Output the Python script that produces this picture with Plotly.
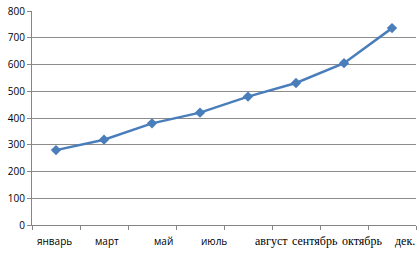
import plotly.graph_objects as go

months = ["январь", "март", "май", "июль", "август", "сентябрь", "октябрь", "дек."]
values = [280, 319, 380, 420, 480, 531, 605, 736]
label_fonts = ["Open Sans", "Open Sans", "Open Sans", "Open Sans",
               "Liberation Serif", "Liberation Serif", "Liberation Serif", "Liberation Serif"]
label_shift = [-2, 3, 11, 14, 23, 19, 18, 13]
y_ticks = [0, 100, 200, 300, 400, 500, 600, 700, 800]

fig = go.Figure()
fig.add_trace(go.Scatter(
    x=months, y=values, mode="lines+markers",
    line=dict(color="#4A7EBB", width=2.5),
    marker=dict(symbol="diamond", size=8, color="#4A7EBB"),
    showlegend=False,
))

for m, f, s in zip(months, label_fonts, label_shift):
    fig.add_annotation(
        x=m, y=0, xref="x", yref="paper", yanchor="top", xanchor="center",
        text=m, showarrow=False, xshift=s, yshift=-7,
        font=dict(family=f, size=12 if "Serif" in f else 10, color="#000000"),
    )

fig.update_layout(
    width=419, height=257,
    margin=dict(l=32, r=3, t=8, b=32),
    paper_bgcolor="white", plot_bgcolor="white",
    xaxis=dict(
        type="category", categoryorder="array", categoryarray=months,
        range=[-0.5, 7.5], tickson="boundaries", ticks="outside", ticklen=4,
        tickcolor="#868686", showticklabels=False, showgrid=False,
        showline=True, linecolor="#868686", linewidth=1, zeroline=False,
    ),
    yaxis=dict(
        range=[0, 800], tickvals=y_ticks, ticks="outside", ticklen=4,
        tickcolor="#868686", showgrid=True, gridcolor="#8c8c8c", gridwidth=1,
        showline=True, linecolor="#868686", linewidth=1, zeroline=False,
        tickfont=dict(family="Open Sans", size=10, color="#000000"),
    ),
)

fig.write_html("out.html")
